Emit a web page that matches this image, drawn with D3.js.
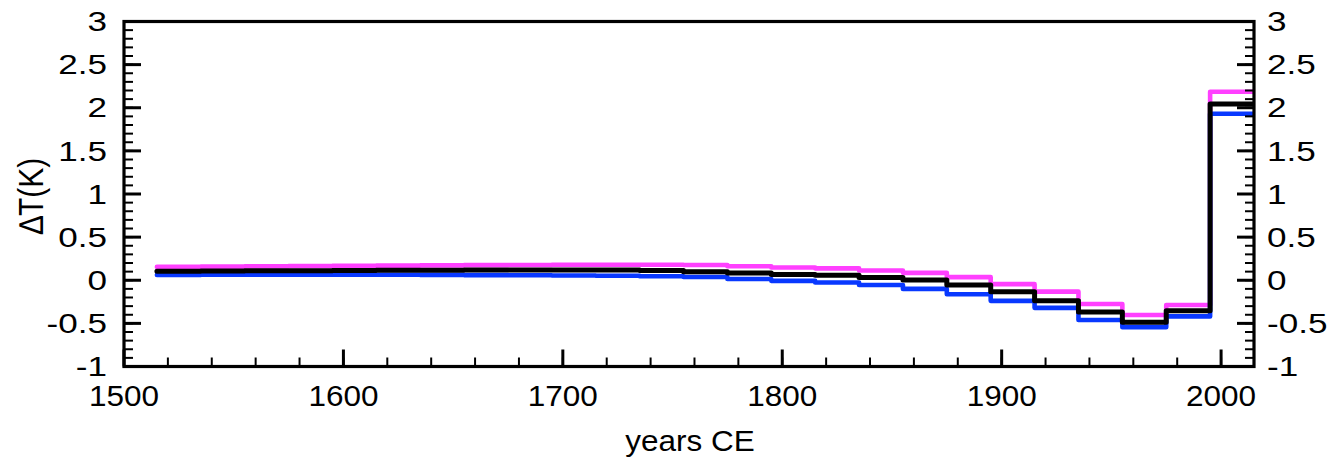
<!DOCTYPE html>
<html><head><meta charset="utf-8">
<script src="https://cdn.jsdelivr.net/npm/d3@7"></script>
<style>body{margin:0;background:#fff}svg{display:block}text{font-family:"Liberation Sans",Arial,Helvetica,sans-serif;fill:#000}</style>
</head><body>
<svg id="c" width="1344" height="464"></svg>
<script>
// step start years (20-year bins)
const stepStart = [1515,1535,1555,1575,1595,1615,1635,1655,1675,1695,1715,1735,1755,1775,1795,1815,1835,1855,1875,1895,1915,1935,1955,1975,1995];
const stepEnd = 2015;
const magentaSeries = [0.155,0.158,0.161,0.164,0.167,0.170,0.172,0.175,0.177,0.179,0.180,0.180,0.177,0.162,0.148,0.138,0.113,0.086,0.036,-0.045,-0.132,-0.275,-0.403,-0.287,2.186];
const blackSeries   = [0.105,0.107,0.109,0.111,0.113,0.115,0.117,0.118,0.119,0.119,0.118,0.112,0.100,0.084,0.067,0.057,0.032,0.003,-0.055,-0.132,-0.239,-0.368,-0.486,-0.355,2.043];
const blueSeries    = [0.062,0.063,0.064,0.064,0.064,0.063,0.062,0.060,0.058,0.055,0.052,0.047,0.038,0.014,-0.007,-0.026,-0.055,-0.100,-0.162,-0.239,-0.320,-0.460,-0.544,-0.419,1.930];
const xMajor = [1500,1600,1700,1800,1900,2000];
const xMinor = d3.range(1520, 2015, 20);
const yMajor = [-1,-0.5,0,0.5,1,1.5,2,2.5,3];
const yMajorLabels = ["-1","-0.5","0","0.5","1","1.5","2","2.5","3"];
const yMinor = d3.range(-10, 31, 1).map(v => v/10);
const xTitle = "years CE";
const yTitle = "\u2206T(K)";

const L=124, R=1254, T=21.5, B=366.5;
const x = d3.scaleLinear().domain([1500, 2015]).range([L, R]);
const y = d3.scaleLinear().domain([-1, 3]).range([B, T]);
const svg = d3.select("#c");

svg.append("defs").append("clipPath").attr("id","clip")
  .append("rect").attr("x",L).attr("y",T).attr("width",R-L).attr("height",B-T);

const line = d3.line().x(d=>x(d[0])).y(d=>y(d[1])).curve(d3.curveStepAfter);
function pts(vals){ const p = stepStart.map((s,i)=>[s, vals[i]]); p.push([stepEnd, vals[vals.length-1]]); return p; }

const g = svg.append("g").attr("clip-path","url(#clip)");
[[magentaSeries,"#ff40ff",4.6],[blueSeries,"#0838ff",4.6],[blackSeries,"#000",5]].forEach(([v,c,w])=>{
  g.append("path").attr("d", line(pts(v))).attr("fill","none").attr("stroke",c)
   .attr("stroke-width",w).attr("stroke-linejoin","round").attr("stroke-linecap","round");
});

// ticks (inward)
const tk = svg.append("g").attr("stroke","#000");
function yTicks(xPos, dir){
  yMinor.forEach(v=>{ tk.append("line").attr("x1",xPos).attr("x2",xPos+dir*9).attr("y1",y(v)).attr("y2",y(v)).attr("stroke-width",2); });
  yMajor.forEach(v=>{ tk.append("line").attr("x1",xPos).attr("x2",xPos+dir*17).attr("y1",y(v)).attr("y2",y(v)).attr("stroke-width",3); });
}
yTicks(L,1); yTicks(R,-1);
xMinor.forEach(v=>{ tk.append("line").attr("x1",x(v)).attr("x2",x(v)).attr("y1",B).attr("y2",B-9).attr("stroke-width",2); });
xMajor.forEach(v=>{ tk.append("line").attr("x1",x(v)).attr("x2",x(v)).attr("y1",B).attr("y2",B-17).attr("stroke-width",3); });

// frame
svg.append("rect").attr("x",L).attr("y",T).attr("width",R-L).attr("height",B-T)
  .attr("fill","none").attr("stroke","#000").attr("stroke-width",3.2);

// labels
const sx = 1.3;
yMajor.forEach((v,i)=>{
  svg.append("text").attr("transform",`translate(107,${y(v)}) scale(${sx},1)`).attr("text-anchor","end")
    .attr("dy","0.36em").attr("font-size",27).text(yMajorLabels[i]);
  svg.append("text").attr("transform",`translate(1267,${y(v)}) scale(${sx},1)`).attr("text-anchor","start")
    .attr("dy","0.36em").attr("font-size",27).text(yMajorLabels[i]);
});
xMajor.forEach(v=>{
  svg.append("text").attr("transform",`translate(${x(v)},406) scale(1.05,1)`).attr("text-anchor","middle")
    .attr("font-size",30).text(String(v));
});
svg.append("text").attr("transform","translate(690,451) scale(1.05,1)").attr("text-anchor","middle")
  .attr("font-size",30).text(xTitle);
svg.append("text").attr("transform","translate(43,196) rotate(-90) scale(1,1.15)").attr("text-anchor","middle")
  .attr("font-size",30).text(yTitle);
</script>
</body></html>
